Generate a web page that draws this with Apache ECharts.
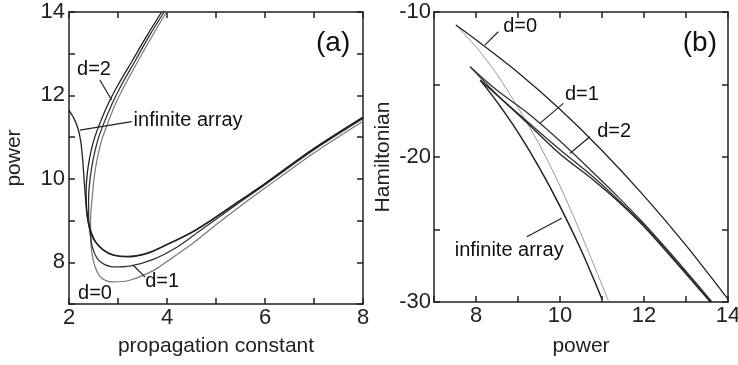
<!DOCTYPE html>
<html>
<head>
<meta charset="utf-8">
<script src="https://cdn.jsdelivr.net/npm/echarts@6/dist/echarts.min.js"></script>
<style>
  html, body { margin: 0; padding: 0; background: #fff; }
  #chart { width: 738px; height: 365px; }
</style>
</head>
<body>
<div id="chart"></div>
<script>
// panel (a): power vs propagation constant
const aInfinite = [[2,11.65],[2.1,11.45],[2.18,11.22],[2.24,10.9],[2.28,10.45],[2.31,9.95],[2.34,9.5],[2.37,9.1],[2.42,8.8],[2.5,8.55],[2.7,8.3],[2.9,8.18],[3.18,8.14],[3.59,8.22],[4,8.43],[4.5,8.72],[5,9.09],[5.5,9.49],[6,9.89],[7,10.73],[8,11.48]];
const aD2 = [[3.89,14],[3.6,13.45],[3.3,12.85],[3.0,12.25],[2.8,11.8],[2.62,11.3],[2.5,10.9],[2.42,10.5],[2.37,10.1],[2.35,9.7],[2.36,9.3],[2.4,8.95],[2.46,8.7],[2.55,8.48],[2.7,8.29],[2.9,8.17],[3.18,8.13],[3.59,8.21],[4,8.42],[4.5,8.71],[5,9.08],[5.5,9.48],[6,9.88],[7,10.72],[8,11.47]];
const aD1 = [[3.94,14],[3.65,13.45],[3.36,12.85],[3.07,12.25],[2.88,11.8],[2.7,11.3],[2.58,10.9],[2.49,10.45],[2.43,10.0],[2.4,9.55],[2.4,9.1],[2.43,8.7],[2.48,8.35],[2.58,8.08],[2.72,7.95],[2.9,7.89],[3.24,7.91],[3.72,8.07],[4.2,8.36],[4.7,8.78],[5,9.03],[5.5,9.45],[6,9.86],[7,10.7],[8,11.45]];
const aD0 = [[3.99,14],[3.71,13.45],[3.42,12.85],[3.14,12.25],[2.95,11.8],[2.78,11.3],[2.66,10.9],[2.57,10.45],[2.51,10.0],[2.47,9.5],[2.44,9.05],[2.44,8.6],[2.47,8.2],[2.53,7.9],[2.62,7.68],[2.75,7.56],[2.9,7.53],[3.24,7.57],[3.72,7.8],[4,8.02],[4.5,8.43],[5,8.9],[5.5,9.35],[6,9.78],[7,10.62],[8,11.38]];

// panel (b): Hamiltonian vs power
const bD0Upper = [[7.52,-10.9],[8,-11.92],[9,-14.17],[10,-16.71],[11,-19.55],[12,-22.68],[13,-26.09],[14,-29.8]];
const bD0Lower = [[7.52,-10.9],[8,-12.4],[8.5,-14.3],[9,-16.6],[9.5,-19.1],[10,-22.0],[10.5,-25.3],[11.15,-29.9]];
const bD1a = [[7.86,-13.77],[8.5,-15.4],[9.2,-16.9],[10,-18.9],[10.8,-21.1],[11.4,-22.8],[12,-24.6],[12.8,-27.2],[13.62,-30]];
const bD1b = [[7.86,-13.77],[8.5,-15.7],[9.2,-17.5],[10,-19.5],[10.8,-21.4],[11.4,-23.0],[12,-24.7],[12.8,-27.3],[13.6,-30]];
const bD2 = [[8.1,-14.7],[8.6,-16.0],[9.2,-17.6],[10,-19.8],[10.8,-21.6],[11.4,-23.1],[12,-24.8],[12.8,-27.4],[13.58,-30]];
const bInfinite = [[8.1,-14.7],[8.5,-16.2],[9,-18.3],[9.5,-20.7],[10,-23.4],[10.5,-26.4],[11,-29.8]];

// annotations [x, y, text]
const aLabels = [[2.51,12.61,'d=2'],[4.43,11.39,'infinite array'],[3.90,7.55,'d=1'],[2.53,7.26,'d=0']];
const aPointers = [[[2.63,12.37],[2.87,11.89]],[[3.28,11.37],[2.22,11.17]],[[3.55,7.65],[3.31,7.93]]];
const bLabels = [[9.05,-11.03,'d=0'],[10.52,-15.72,'d=1'],[11.29,-18.21,'d=2'],[8.79,-26.48,'infinite array']];
const bPointers = [[[8.53,-11.36],[8.21,-12.28]],[[10.08,-16.30],[9.52,-17.68]],[[10.71,-18.60],[10.24,-19.74]],[[9.21,-25.50],[10.04,-24.23]]];
const aTag = [7.39,13.26,'(a)'];
const bTag = [13.33,-12.14,'(b)'];

const FONT = 'Liberation Sans';
const INK = '#222';

const chart = echarts.init(document.getElementById('chart'));

function makeAxis(opts) {
  const every = opts.every;
  return {
    type: 'value', gridIndex: opts.grid, position: opts.position,
    min: opts.min, max: opts.max, interval: opts.interval,
    name: opts.name || '', nameLocation: 'middle', nameGap: opts.nameGap || 0,
    nameTextStyle: { fontFamily: FONT, fontSize: 21, color: INK },
    axisLine: { show: true, onZero: false, lineStyle: { color: INK, width: 1.5 } },
    axisTick: { show: true, inside: true, length: 6, lineStyle: { color: INK, width: 1.5 } },
    splitLine: { show: false },
    axisLabel: {
      show: !opts.mirror, margin: opts.margin || 3,
      fontFamily: FONT, fontSize: 22, color: INK,
      formatter: v => (Math.round(v) % every === 0 ? String(v) : '')
    }
  };
}

const xAxes = [
  makeAxis({ grid: 0, position: 'bottom', min: 2, max: 8, interval: 1, every: 2, name: 'propagation constant', nameGap: 32, margin: 3 }),
  makeAxis({ grid: 1, position: 'bottom', min: 7, max: 14, interval: 1, every: 2, name: 'power', nameGap: 34, margin: 3 }),
  makeAxis({ grid: 0, position: 'top', min: 2, max: 8, interval: 1, every: 2, mirror: true }),
  makeAxis({ grid: 1, position: 'top', min: 7, max: 14, interval: 1, every: 2, mirror: true })
];
const yAxes = [
  makeAxis({ grid: 0, position: 'left', min: 7, max: 14, interval: 1, every: 2, name: 'power', nameGap: 44, margin: 4 }),
  makeAxis({ grid: 1, position: 'left', min: -30, max: -10, interval: 5, every: 10, name: 'Hamiltonian', nameGap: 40, margin: 3 }),
  makeAxis({ grid: 0, position: 'right', min: 7, max: 14, interval: 1, every: 2, mirror: true }),
  makeAxis({ grid: 1, position: 'right', min: -30, max: -10, interval: 5, every: 10, mirror: true })
];

const curve = (data, gi, color, width) => ({
  type: 'line', data, xAxisIndex: gi, yAxisIndex: gi,
  showSymbol: false, smooth: 0.3, silent: true,
  lineStyle: { color, width }
});

const series = [
  curve(aD0, 0, '#777', 1.2),
  curve(aD1, 0, '#333', 1.3),
  curve(aD2, 0, INK, 1.3),
  curve(aInfinite, 0, INK, 1.3),
  curve(bD0Lower, 1, '#999', 1),
  curve(bD0Upper, 1, INK, 1.3),
  curve(bD1a, 1, '#333', 1.3),
  curve(bD1b, 1, '#333', 1.3),
  curve(bD2, 1, INK, 1.3),
  curve(bInfinite, 1, INK, 1.5)
];
aPointers.forEach(p => series.push(curve(p, 0, INK, 1.2)));
bPointers.forEach(p => series.push(curve(p, 1, INK, 1.2)));

chart.setOption({
  backgroundColor: '#fff',
  animation: false,
  grid: [
    { left: 69, top: 12, width: 294, height: 292, containLabel: false, outerBoundsMode: 'none' },
    { left: 434, top: 12, width: 294, height: 290, containLabel: false, outerBoundsMode: 'none' }
  ],
  xAxis: xAxes,
  yAxis: yAxes,
  series
});

// annotation texts placed through the axes' own scales
const textAt = (gi, l, size) => {
  const p = chart.convertToPixel({ xAxisIndex: gi, yAxisIndex: gi }, [l[0], l[1]]);
  return {
    type: 'text', x: p[0], y: p[1], silent: true, z: 10,
    style: {
      text: l[2], fontFamily: FONT, fontSize: size, fill: '#111',
      align: 'center', verticalAlign: 'middle'
    }
  };
};
const graphic = [];
aLabels.forEach(l => graphic.push(textAt(0, l, 20)));
bLabels.forEach(l => graphic.push(textAt(1, l, 20)));
graphic.push(textAt(0, aTag, 28));
graphic.push(textAt(1, bTag, 28));
chart.setOption({ graphic });
</script>
</body>
</html>
